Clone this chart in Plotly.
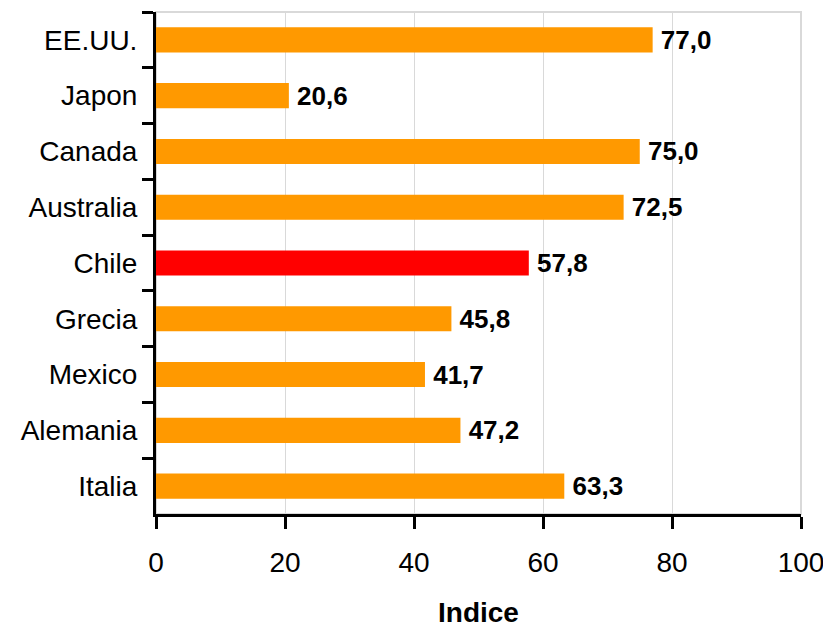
import plotly.graph_objects as go

countries = ["EE.UU.", "Japon", "Canada", "Australia", "Chile", "Grecia", "Mexico", "Alemania", "Italia"]
values = [77.0, 20.6, 75.0, 72.5, 57.8, 45.8, 41.7, 47.2, 63.3]
highlight = "Chile"
x_ticks = [0, 20, 40, 60, 80, 100]
x_title = "Indice"

colors = ["#FF0000" if c == highlight else "#FF9900" for c in countries]
labels = ["\u2009" + f"{v:.1f}".replace(".", ",") for v in values]

fig = go.Figure(go.Bar(
    y=countries, x=values, orientation="h",
    marker=dict(color=colors, line=dict(width=0)),
    text=labels, textposition="outside", constraintext="none",
    textfont=dict(family="Liberation Sans, Arial", size=26, color="black", weight="bold"),
    cliponaxis=False,
))

fig.update_layout(
    width=831, height=631,
    margin=dict(l=148, r=38, t=4, b=125),
    paper_bgcolor="white", plot_bgcolor="white",
    bargap=0.55,
    showlegend=False,
    font=dict(family="Liberation Sans, Arial", size=28, color="black"),
    xaxis=dict(
        range=[0, 100], tickvals=x_ticks, ticktext=[str(t) for t in x_ticks],
        showgrid=True, gridcolor="#D9D9D9", gridwidth=1,
        showline=True, linecolor="black", linewidth=3,
        ticks="outside", ticklen=12, tickwidth=3, tickcolor="black",
        ticklabelstandoff=9,
        zeroline=False,
        title=dict(text=x_title, font=dict(size=28, weight="bold"), standoff=26),
    ),
    yaxis=dict(
        categoryorder="array", categoryarray=countries, autorange="reversed",
        tickson="boundaries",
        showgrid=False,
        showline=True, linecolor="black", linewidth=3,
        ticks="outside", ticklen=11, tickwidth=3, tickcolor="black",
        ticklabelstandoff=10,
    ),
    shapes=[dict(type="rect", xref="paper", yref="paper", x0=0, x1=1, y0=0, y1=1,
                 line=dict(color="#D9D9D9", width=2), layer="below")],
)

fig.write_html("out.html")
